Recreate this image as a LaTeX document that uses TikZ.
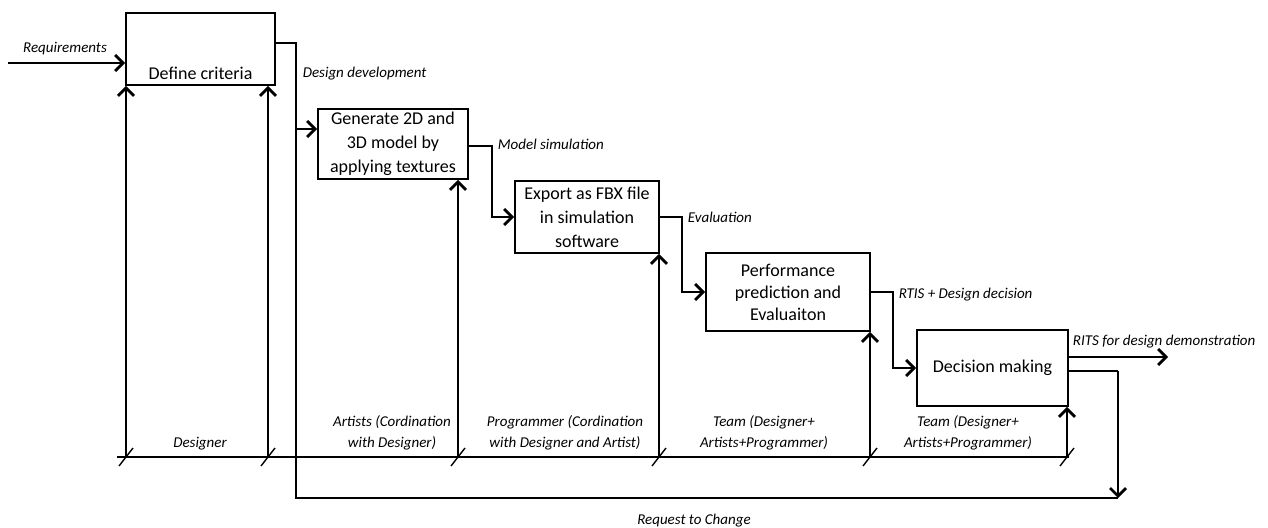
\documentclass[tikz,border=0pt]{standalone}
\usepackage{fontspec}
\setmainfont{Carlito}
\usetikzlibrary{arrows.meta}
\begin{document}
\begin{tikzpicture}[x=0.5pt,y=-0.5pt,
  line width=0.85pt,
  box/.style={draw, line width=0.85pt, inner sep=0pt, align=center, font=\fontsize{9}{12}\selectfont},
  boxtxt/.style={inner sep=0pt, font=\fontsize{9}{12}\selectfont},
  lab/.style={inner sep=0pt, align=center, font=\fontsize{7.5}{10.5}\selectfont\itshape},
  arr/.style={-{Straight Barb[length=4pt,width=8pt,line width=1.4pt]}},
  tick/.style={line width=0.7pt}]
\useasboundingbox (0,0) rectangle (1268,527);
% boxes
\node[box, minimum width=74.5pt, minimum height=36pt] (dc) at (200.5,49) {};
\node[boxtxt] (dct) at (200.5,73) {Define criteria};
\node[box, minimum width=75pt, minimum height=35pt] (gen) at (393,144) {Generate 2D and\\3D model by\\applying textures};
\node[box, minimum width=72pt, minimum height=36pt] (exp) at (587,217) {Export as FBX file\\in simulation\\software};
\node[box, minimum width=82pt, minimum height=39pt, font=\fontsize{9}{11}\selectfont] (perf) at (788,292) {Performance\\prediction and\\Evaluaiton};
\node[box, minimum width=75.5pt, minimum height=38pt] (dec) at (992.5,368) {Decision making};
% coordinates
\coordinate (req) at (8,63);
\coordinate (d1) at (296,43);
\coordinate (d2) at (296,129);
\coordinate (d3) at (296,498);
\coordinate (m1) at (492,146);
\coordinate (e1) at (682,219);
\coordinate (p1) at (893,292);
\coordinate (out) at (1168,357);
\coordinate (r1) at (1118,371);
\coordinate (rq) at (1118,498);
\coordinate (b0) at (117,457);
\coordinate (b6) at (1069,457);
\coordinate (t1) at (126,457);
\coordinate (t2) at (268,457);
\coordinate (t3) at (458,457);
\coordinate (t4) at (659,457);
\coordinate (t5) at (870,457);
\coordinate (t6) at (1067,457);
% connectors
\draw[arr] (req) -- (req -| dc.west);
\draw (dc.east |- d1) -- (d1) -- (d3) -- (rq);
\draw[arr] (d2) -- (d2 -| gen.west);
\draw[arr] (gen.east |- m1) -- (m1) |- (exp.west);
\draw[arr] (exp.east) -- (e1 |- exp.east) |- (perf.west);
\draw[arr] (perf.east) -- (p1) |- (dec.west);
\draw[arr] (out -| dec.east) -- (out);
\draw (r1 -| dec.east) -- (r1);
\draw[arr] (r1) -- (rq);
% bottom line
\draw (b0) -- (b6);
\foreach \t in {t1,t2,t3,t4,t5,t6}{
  \draw[tick] ([shift={(-7,9)}]\t) -- ([shift={(7,-9)}]\t);
}
\draw[arr] (t1) -- (t1 |- dc.south);
\draw[arr] (t2) -- (t2 |- dc.south);
\draw[arr] (t3) -- (t3 |- gen.south);
\draw[arr] (t4) -- (t4 |- exp.south);
\draw[arr] (t5) -- (t5 |- perf.south);
\draw[arr] (t6) -- (t6 |- dec.south);
% labels
\node[lab] (lreq) at (65,49) {Requirements};
\node[lab, anchor=west] (ldd) at (302,74) {Design development};
\node[lab, anchor=west] (lms) at (497,144) {Model simulation};
\node[lab, anchor=west] (lev) at (687,217) {Evaluation};
\node[lab, anchor=west] (lrt) at (898,295) {RTIS + Design decision};
\node[lab, anchor=west] (lri) at (1072,342) {RITS for design demonstration};
\node[lab] (ldes) at (200,444) {Designer};
\node[lab] (lart) at (392,433) {Artists (Cordination\\with Designer)};
\node[lab] (lpro) at (565,433) {Programmer (Cordination\\with Designer and Artist)};
\node[lab] (lt1) at (764,433) {Team (Designer+\\Artists+Programmer)};
\node[lab] (lt2) at (968,433) {Team (Designer+\\Artists+Programmer)};
\node[lab] (lrc) at (694,521) {Request to Change};
\end{tikzpicture}
\end{document}
